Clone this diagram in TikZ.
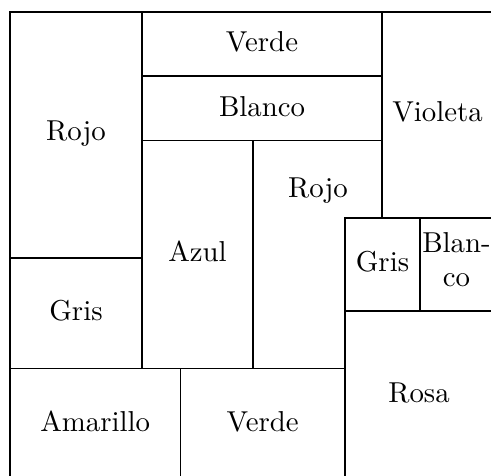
\documentclass[tikz,border=0pt]{standalone}
\begin{document}
\begin{tikzpicture}[x=1pt,y=-1pt,
  cell/.style={draw=black,line width=1.2pt},
  lbl/.style={inner sep=0pt,align=center,scale=2.88,font=\fontsize{10}{12}\selectfont}]
\useasboundingbox (0,0) rectangle (491,476);
\clip (0,0) rectangle (491,476);
% cells
\draw[cell] (10,12) rectangle (142,258);
\draw[cell] (142,12) rectangle (382,76);
\draw[cell] (142,76) rectangle (382,140.5);
\draw[cell] (382,12) rectangle (493,218);
\draw[cell] (142,140.5) rectangle (253,368.5);
\draw[cell] (253,140.5) -- (382,140.5) -- (382,218) -- (345,218) -- (345,368.5) -- (253,368.5) -- cycle;
\draw[cell] (345,218) rectangle (420,311);
\draw[cell] (420,218) rectangle (493,311);
\draw[cell] (345,311) rectangle (493,479);
\draw[cell] (10,258) rectangle (142,368.5);
\draw[cell] (10,368.5) rectangle (180.5,479);
\draw[cell] (180.5,368.5) rectangle (345,479);
% labels
\node[lbl] (rojoA) at (76,134) {Rojo};
\node[lbl] (verdeA) at (262,42) {Verde};
\node[lbl] (blancoA) at (262,106.7) {Blanco};
\node[lbl] (violeta) at (437.5,112) {Violeta};
\node[lbl] (azul) at (197.5,251.7) {Azul};
\node[lbl] (rojoB) at (318,190.7) {Rojo};
\node[lbl] (grisB) at (382.5,261.5) {Gris};
\node[lbl] (blancoB) at (456.5,259.7) {Blan-\\co};
\node[lbl] (rosa) at (419,393) {Rosa};
\node[lbl] (grisA) at (76,311) {Gris};
\node[lbl] (amarillo) at (95.2,421.5) {Amarillo};
\node[lbl] (verdeB) at (262.7,421.5) {Verde};
\end{tikzpicture}
\end{document}
